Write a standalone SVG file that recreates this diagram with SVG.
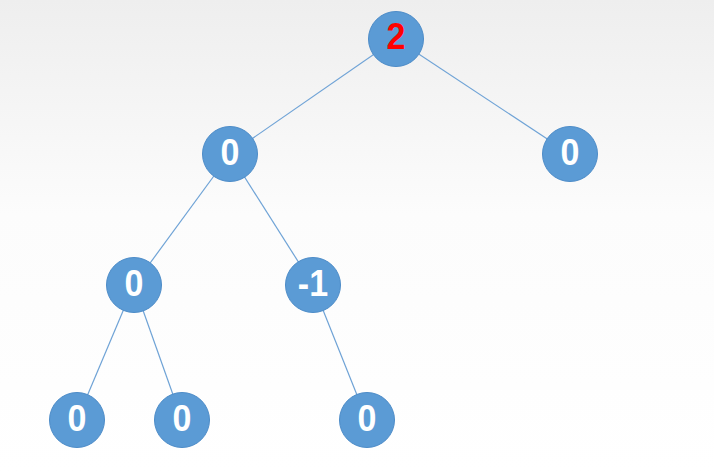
<svg xmlns="http://www.w3.org/2000/svg" width="714" height="474" viewBox="0 0 714 474">
<defs>
<linearGradient id="bg" x1="0" y1="0" x2="0" y2="1">
<stop offset="0" stop-color="#eeeeee"/>
<stop offset="0.45" stop-color="#fcfcfc"/>
<stop offset="1" stop-color="#ffffff"/>
</linearGradient>
<style>
.n{fill:#5b9bd5;stroke:#4d8cc8;stroke-width:1}
.t{font-family:"Liberation Sans",Arial,sans-serif;font-weight:bold;font-size:37px;fill:#ffffff;text-anchor:middle}
.r{fill:#ff0000}
.e{stroke:#6fa3d6;stroke-width:1.2;fill:none}
</style>
</defs>
<rect x="0" y="0" width="714" height="474" fill="url(#bg)"/>
<g id="edges">
<line class="e" x1="396" y1="39" x2="230" y2="154"/>
<line class="e" x1="396" y1="39" x2="570" y2="154"/>
<line class="e" x1="230" y1="154" x2="134" y2="285"/>
<line class="e" x1="230" y1="154" x2="313" y2="285"/>
<line class="e" x1="134" y1="285" x2="77" y2="420"/>
<line class="e" x1="134" y1="285" x2="182" y2="420"/>
<line class="e" x1="313" y1="285" x2="367" y2="420"/>
</g>
<g id="n_root"><circle class="n" cx="396" cy="39" r="27.5"/><text class="t r" transform="translate(396 49) scale(0.92 1)">2</text></g>
<g id="n_l"><circle class="n" cx="230" cy="154" r="27.5"/><text class="t" transform="translate(230 165) scale(0.92 1)">0</text></g>
<g id="n_r"><circle class="n" cx="570" cy="154" r="27.5"/><text class="t" transform="translate(570 165) scale(0.92 1)">0</text></g>
<g id="n_ll"><circle class="n" cx="134" cy="285" r="27.5"/><text class="t" transform="translate(134 296) scale(0.92 1)">0</text></g>
<g id="n_lr"><circle class="n" cx="313" cy="285" r="27.5"/><text class="t" transform="translate(313 296) scale(0.92 1)">-1</text></g>
<g id="n_lll"><circle class="n" cx="77" cy="420" r="27.5"/><text class="t" transform="translate(77 431) scale(0.92 1)">0</text></g>
<g id="n_llr"><circle class="n" cx="182" cy="420" r="27.5"/><text class="t" transform="translate(182 431) scale(0.92 1)">0</text></g>
<g id="n_lrr"><circle class="n" cx="367" cy="420" r="27.5"/><text class="t" transform="translate(367 431) scale(0.92 1)">0</text></g>
</svg>
